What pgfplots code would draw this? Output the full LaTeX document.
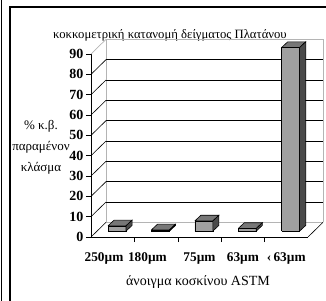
\documentclass[border=0pt]{standalone}
\usepackage{pgfplots}
\pgfplotsset{compat=1.18}
\usepackage{pgfplotstable}
\usepackage{fontspec}
\setmainfont{Liberation Serif}
\definecolor{frontgray}{HTML}{A0A0A0}
\definecolor{topgray}{HTML}{777777}
\definecolor{sidegray}{HTML}{4A4A4A}
\definecolor{wallgray}{HTML}{B4B4B4}
\pgfplotstableread{
idx value
0 2.6
1 0.6
2 5.0
3 1.3
4 90.3
}\datatable
\def\dx{0.345}
\def\dy{7.2}
\def\bw{0.415}
\def\ox{0.1}
\def\oy{2.9}
\def\bdx{0.14}
\def\bdy{2.8}
\begin{document}
\begin{tikzpicture}[x=1pt,y=1pt]
\useasboundingbox (0,0) rectangle (326,300);
\draw[line width=0.8pt] (1.5,-5) -- (1.5,305);
\draw[line width=1.5pt] (10,-5) -- (10,293) -- (335,293);
\node[font=\fontsize{12.7}{12.7}\selectfont] at (170,265) {κοκκομετρική κατανομή δείγματος Πλατάνου};
\node[align=center,font=\fontsize{13}{21}\selectfont] at (41,153) {\% κ.β.\\παραμένον\\κλάσμα};
\node[font=\fontsize{14}{14}\selectfont] at (198,18) {άνοιγμα κοσκίνου ASTM};
\begin{axis}[
  at={(91pt,63pt)}, anchor=south west,
  scale only axis, width=217pt, height=183pt,
  xmin=-0.5, xmax=4.5, ymin=0, ymax=90,
  clip=false,
  axis x line*=bottom, axis y line*=left,
  axis line style={black, line width=0.8pt},
  /pgf/number format/assume math mode=true,
  ytick={0,10,...,90},
  tick align=outside,
  major tick length=5pt,
  ytick style={black, line width=0.6pt},
  yticklabel style={font=\bfseries\fontsize{14}{14}\selectfont, xshift=1pt},
  xtick={-0.2,0.8,2,3,4},
  xticklabels={250µm,180µm,75µm,63µm,‹\,63µm},
  xtick style={draw=none},
  xticklabel style={font=\bfseries\fontsize{13.3}{13.3}\selectfont, yshift=-7pt},
  extra x ticks={0.5,1.5,2.5,3.5},
  extra x tick labels={},
  extra x tick style={xtick style={draw=black, line width=0.6pt}},
]
% walls
\draw[wallgray, line width=0.7pt] (axis cs:-0.5+\dx,\dy) -- (axis cs:4.5+\dx,\dy);
\draw[wallgray, line width=0.7pt] (axis cs:-0.5+\dx,\dy) -- (axis cs:-0.5+\dx,90+\dy) -- (axis cs:4.5+\dx,90+\dy) -- (axis cs:4.5+\dx,\dy);
\pgfplotsinvokeforeach{10,20,...,80}{
  \draw[black, line width=0.6pt] (axis cs:-0.5+\dx,#1+\dy) -- (axis cs:4.5+\dx,#1+\dy);
}
\pgfplotsinvokeforeach{0,10,...,80}{
  \draw[black, line width=0.6pt] (axis cs:-0.5,#1) -- (axis cs:-0.5+\dx,#1+\dy);
}
\draw[wallgray, line width=0.7pt] (axis cs:-0.5,90) -- (axis cs:-0.5+\dx,90+\dy);
\draw[black, line width=0.6pt] (axis cs:4.5,0) -- (axis cs:4.5+\dx,\dy);
% bars
\pgfplotsinvokeforeach{0,...,4}{
  \pgfplotstablegetelem{#1}{value}\of\datatable
  \pgfmathsetmacro\vtop{\pgfplotsretval+\oy}
  \pgfmathsetmacro\xl{#1+\ox-\bw/2}
  \pgfmathsetmacro\xr{#1+\ox+\bw/2}
  \pgfmathsetmacro\xlb{\xl+\bdx}
  \pgfmathsetmacro\xrb{\xr+\bdx}
  \pgfmathsetmacro\vb{\vtop+\bdy}
  \pgfmathsetmacro\yb{\oy+\bdy}
  \edef\temp{%
   \noexpand\addplot[fill=frontgray,draw=black,line width=0.6pt] coordinates {(\xl,\oy) (\xr,\oy) (\xr,\vtop) (\xl,\vtop) (\xl,\oy)};
   \noexpand\addplot[fill=topgray,draw=black,line width=0.6pt] coordinates {(\xl,\vtop) (\xr,\vtop) (\xrb,\vb) (\xlb,\vb) (\xl,\vtop)};
   \noexpand\addplot[fill=sidegray,draw=black,line width=0.6pt] coordinates {(\xr,\oy) (\xrb,\yb) (\xrb,\vb) (\xr,\vtop) (\xr,\oy)};
  }%
  \temp
}
\end{axis}
\end{tikzpicture}
\end{document}
